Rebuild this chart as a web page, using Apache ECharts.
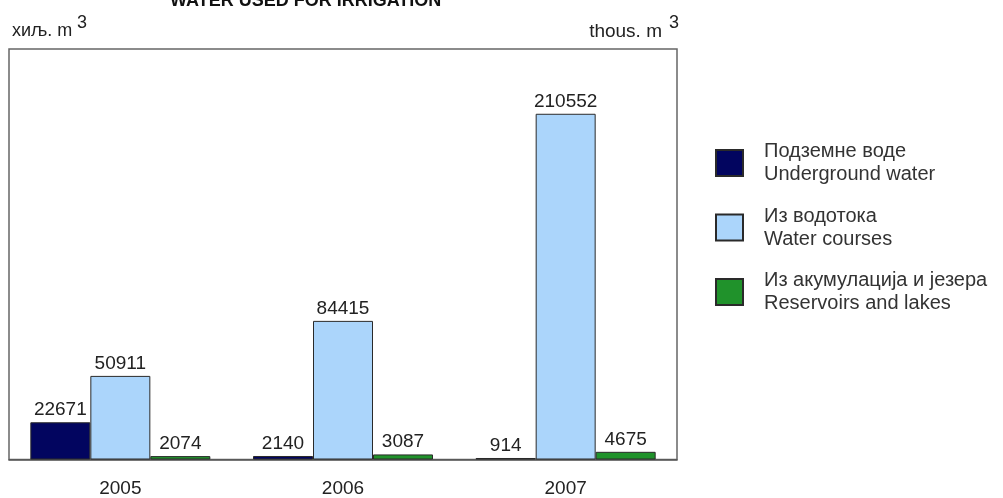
<!DOCTYPE html>
<html>
<head>
<meta charset="utf-8">
<script src="https://cdn.jsdelivr.net/npm/echarts@6/dist/echarts.min.js"></script>
<style>
html,body{margin:0;padding:0;background:#fff;}
#chart{width:1003px;height:498px;}
</style>
</head>
<body>
<div id="chart"></div>
<script>
const years = ['2005', '2006', '2007'];
const seriesNames = [
  'Подземне воде\nUnderground water',
  'Из водотока\nWater courses',
  'Из акумулација и језера\nReservoirs and lakes'
];
const underground = [22671, 2140, 914];
const waterCourses = [50911, 84415, 210552];
const reservoirs = [2074, 3087, 4675];
const colors = ['#02055f', '#abd5fb', '#20922b'];
const FONT = 'Liberation Sans, Arial, sans-serif';

const chart = echarts.init(document.getElementById('chart'));
const values = [underground, waterCourses, reservoirs];
const option = {
  backgroundColor: '#ffffff',
  animation: false,
  title: {
    text: 'WATER USED FOR IRRIGATION',
    left: 170,
    top: -8,
    padding: 0,
    textStyle: {fontFamily: FONT, fontSize: 18, fontWeight: 'bold', color: '#111'}
  },
  grid: {
    left: 9, right: 326, top: 49, bottom: 38.5,
    outerBoundsMode: 'none',
    containLabel: false,
    show: true, borderColor: '#666', borderWidth: 1.5, backgroundColor: '#fff'
  },
  legend: {
    orient: 'vertical',
    left: 715,
    top: 140,
    padding: 0,
    icon: 'rect',
    itemWidth: 27,
    itemHeight: 26,
    itemGap: 18.5,
    data: seriesNames,
    textStyle: {fontFamily: FONT, fontSize: 20, lineHeight: 23, color: '#333', padding: [0, 0, 0, 16]}
  },
  xAxis: {
    type: 'category',
    data: years,
    axisLine: {lineStyle: {color: '#555', width: 1.5}},
    axisTick: {alignWithLabel: true, length: 10, lineStyle: {color: '#444', width: 1.5}},
    axisLabel: {fontFamily: FONT, fontSize: 19, color: '#222', margin: 20}
  },
  yAxis: {
    type: 'value', min: 0, max: 250000, show: false,
    splitLine: {show: false}
  },
  graphic: [
    {type: 'text', left: 12, top: 22, style: {text: 'хиљ. m', fontFamily: FONT, fontSize: 18, fill: '#222'}},
    {type: 'text', left: 77, top: 14, style: {text: '3', fontFamily: FONT, fontSize: 18, fill: '#222'}},
    {type: 'text', right: 1003 - 662, top: 22, style: {text: 'thous. m', fontFamily: FONT, fontSize: 19, fill: '#222'}},
    {type: 'text', left: 669, top: 14, style: {text: '3', fontFamily: FONT, fontSize: 18, fill: '#222'}}
  ],
  series: seriesNames.map((name, i) => ({
    name: name,
    type: 'bar',
    data: values[i],
    barWidth: 60,
    barGap: '0%',
    itemStyle: {color: colors[i], borderColor: '#2a2a2a', borderWidth: 1},
    label: {show: true, position: 'top', distance: 3, fontFamily: FONT, fontSize: 19, color: '#222'}
  }))
};
chart.setOption(option);
</script>
</body>
</html>
